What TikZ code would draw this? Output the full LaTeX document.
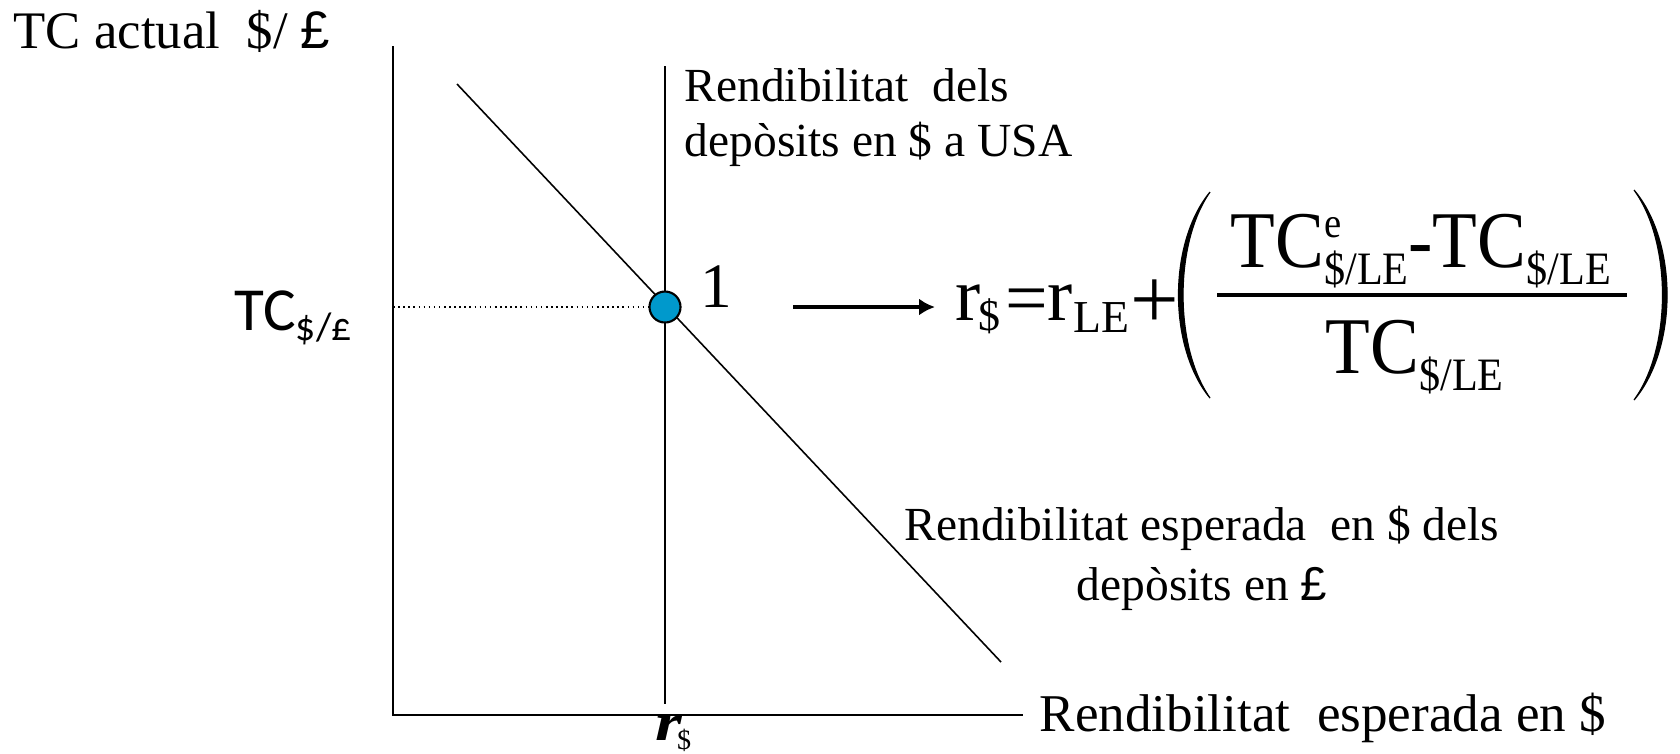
\documentclass[tikz,border=0pt]{standalone}
\usepackage{graphicx}
\usepackage{fontspec}
\setmainfont{Liberation Serif}
\newfontfamily\poundfont{Liberation Sans}
\newfontfamily\calfont{Carlito}
\usepackage{xcolor}
\usetikzlibrary{arrows.meta,positioning,calc}
\definecolor{dotblue}{RGB}{0,153,204}
\newcommand{\fsz}[1]{\fontsize{#1}{#1}\selectfont}
\newcommand{\dn}[3]{\raisebox{-#1}{\fsz{#2}#3}}
\newcommand{\pnd}{{\poundfont £}}

\begin{document}
\begin{tikzpicture}[x=0.01cm,y=-0.01cm,
    lbl/.style={inner sep=0pt},
    thinline/.style={line width=0.45pt},
    eqpt/.style={circle,draw,line width=0.6pt,fill=dotblue,minimum size=0.31cm,inner sep=0pt},
    arrowline/.style={line width=0.9pt,-{Latex[length=4.5pt,width=4.8pt]}},
    fracrule/.style={line width=1.1pt},
    paren/.style={fill=black,draw=black,line width=0.35pt}]
    \useasboundingbox (0,0) rectangle (1680,753);
    \coordinate (O) at (393,715);
    \coordinate (ytop) at (393,46);
    \coordinate (xend) at (1023,715);
    \draw[thinline] (ytop) -- (O) -- (xend);
    \coordinate (usatop) at (665,66);
    \coordinate (usabot) at (665,704);
    \draw[thinline] (usatop) -- (usabot);
    \coordinate (ukA) at (457,84);
    \coordinate (ukB) at (1001,662);
    \draw[thinline] (ukA) -- (ukB);
    \node[eqpt] (p1) at (665,307) {};
    \draw[thinline,densely dotted] (O |- p1) -- (p1.west);
    \node[lbl,anchor=base west,font=\fsz{18}] (n1) at (700,307) {1};
    \node[lbl,anchor=base west,font=\fsz{15}] (ylab) at (13,48) {TC actual\ \ \$/ \pnd};
    \node[lbl,anchor=base west,font=\fsz{15.1}] (xlab) at (1039,731) {Rendibilitat\ \ esperada en \$};
    \node[lbl,anchor=base west,font=\calfont\fsz{17.4}] (tclab) at (234,330) {TC\dn{3.1pt}{11.3}{\$/£}};
    \node[lbl,anchor=base west,font=\fsz{15}] (rlab) at (655,740) {\scalebox{1.3}[1]{\bfseries\itshape r}\hspace{-1.5pt}\dn{2.8pt}{8}{\$}};
    \node[lbl,anchor=north west,align=left,font=\fontsize{13.5}{15.6}\selectfont] (usalab) at (684,68)
        {Rendibilitat\ \ dels\\depòsits en \$ a USA};
    \node[lbl,anchor=north,align=center,font=\fontsize{13.5}{17.3}\selectfont] (uklab) at (1202,505)
        {Rendibilitat esperada\ \ en \$ dels\\depòsits en \pnd};
    \node[lbl,anchor=base west,font=\fsz{21.5}] (eqL) at (955,320) {r\hspace{-0.8pt}\dn{3pt}{12.5}{\$}\hspace{1.5pt}\raisebox{-1pt}{=}r\dn{3.5pt}{13}{LE}\hspace{0.5pt}\raisebox{-2.5pt}{\fsz{24.5}+}};
    \node[lbl,anchor=base west,font=\fsz{20.8}] (num) at (1230,267) {\scalebox{1}[1.1]{TC\rlap{\raisebox{7.6pt}{\fsz{11}e}}\dn{4.5pt}{12}{\$/LE}-TC\dn{4.5pt}{12}{\$/LE}}};
    \node[lbl,anchor=base west,font=\fsz{20.8}] (den) at (1325,373) {\scalebox{1}[1.1]{TC\dn{4.5pt}{12}{\$/LE}}};
    \coordinate (fracL) at (1217,295);
    \coordinate (fracR) at (1627,295);
    \draw[fracrule] (fracL) -- (fracR);
    \coordinate (lpT) at (1210,192);
    \coordinate (lpB) at (1210,398);
    \coordinate (rpT) at (1634,190);
    \coordinate (rpB) at (1634,400);
    \filldraw[paren] (lpT) .. controls (1168,243) and (1168,347) .. (lpB) .. controls (1174,347) and (1174,243) .. (lpT);
    \filldraw[paren] (rpT) .. controls (1678,242) and (1678,348) .. (rpB) .. controls (1672,348) and (1672,242) .. (rpT);
    \coordinate (arrS) at (793,307);
    \draw[arrowline,shorten >=5.7pt] (arrS) -- (arrS -| eqL.west);
\end{tikzpicture}
\end{document}
